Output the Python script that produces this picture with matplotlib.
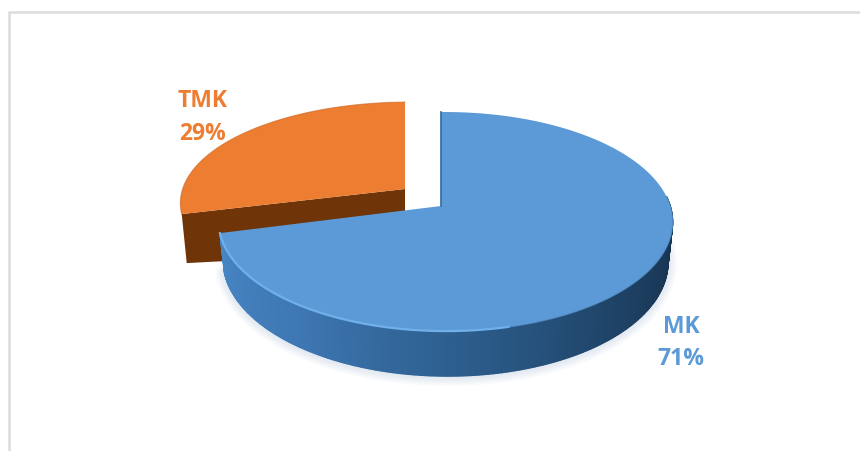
import numpy as np
import matplotlib
matplotlib.use('Agg')
import matplotlib.pyplot as plt
from matplotlib.collections import PolyCollection
from matplotlib.colors import LinearSegmentedColormap

categories = ['MK', 'TMK']
shares = [71, 29]

BLUE = '#5b9ad6'
ORANGE = '#ed7d31'
BROWN = '#6f3408'
W, H = 860, 452
DEPTH = 38.6


def project(t, r=1.0, z=0.0):
    # t is clockwise from 12 o'clock, simple perspective on a tilted disc
    u = r * np.sin(t)
    v = r * np.cos(t)
    w = 1 + 0.142 * v - 0.02 * u
    x = 441 + 224.6 * u / w * (1 - 0.02 * z)
    y = 207 - 107.3 * v / w
    return x, y, w


def wedge_top(t0, t1):
    ts = np.linspace(t0, t1, 200)
    x, y, w = project(ts)
    return np.r_[441.0, x], np.r_[207.0, y]


fig = plt.figure(figsize=(8.6, 4.52), dpi=100)
ax = fig.add_axes([0, 0, 1, 1])
ax.set_xlim(0, W)
ax.set_ylim(H, 0)
ax.axis('off')

# chart frame, only top and left are inside the crop
ax.plot([9, 9, W], [H, 13, 13], color='#dcdcdc', lw=1.8, solid_joinstyle='miter')

angles = np.cumsum([0] + shares) / sum(shares) * 2 * np.pi
blue_t0, blue_t1 = angles[0], angles[1]
or_t0, or_t1 = angles[1], angles[2]

# orange slice pulled out, cut face first
ex, ey = wedge_top(or_t0, or_t1)
ex = 405 + (ex - 441) * 1.01
ey = 190 + (ey - 207) * 0.925
rim_x, rim_y = ex[1], ey[1]
face = [(ex[0], ey[0]), (rim_x, rim_y), (rim_x + 5, rim_y + 49),
        (rim_x + 44, rim_y + 47), (ex[0], ey[0] + 24)]
ax.fill(*zip(*face), color=BROWN, lw=0, zorder=2)
ax.fill(ex, ey, color=ORANGE, lw=0, zorder=3)
ax.plot(ex[1:], ey[1:], color='#c9651f', lw=0.8, alpha=0.6, zorder=3)

# soft shadow under the blue slice
ts = np.linspace(np.radians(85), blue_t1, 200)
sx, sy, sw = project(ts, z=1)
for i in range(6):
    ax.plot(sx, sy + DEPTH / sw + 1, color='#9db8d4', lw=2 + i * 2.2, alpha=0.05,
            zorder=3.5, solid_capstyle='round')

# blue side wall, shaded strip by strip
side_cmap = LinearSegmentedColormap.from_list(
    'side', ['#17324f', '#1f4468', '#2d5f8f', '#3f78b4', '#4785c4'])
ts = np.linspace(np.radians(85), blue_t1, 240)
tx, ty, tw = project(ts)
bx, by, bw = project(ts, z=1)
by = by + DEPTH / bw
quads = []
for i in range(len(ts) - 1):
    quads.append([(tx[i], ty[i]), (tx[i + 1], ty[i + 1]),
                  (bx[i + 1], by[i + 1]), (bx[i], by[i])])
shade = np.clip((ts[:-1] - np.radians(100)) / (blue_t1 - np.radians(100)), 0, 1)
side = PolyCollection(quads, array=shade, cmap=side_cmap, edgecolors='face',
                      linewidths=1.0, zorder=4)
ax.add_collection(side)

# blue top face
bx0, by0 = wedge_top(blue_t0, blue_t1)
ax.fill(bx0, by0, color=BLUE, lw=0, zorder=5)
ax.plot([bx0[0], bx0[1]], [by0[0], by0[1]], color='#2f6aa3', lw=1.2, zorder=5)

# bright rim along the front edge
ts = np.linspace(np.radians(165), blue_t1, 100)
hx, hy, _ = project(ts)
ax.plot(hx, hy, color='#6fb0ea', lw=1.6, zorder=6)
ts = np.linspace(np.radians(85), np.radians(165), 100)
hx, hy, _ = project(ts)
ax.plot(hx, hy, color='#5a97d2', lw=1.0, alpha=0.7, zorder=6)

# labels
label_pos = [(681, 327, 359), (203, 101, 134)]
label_col = [BLUE, ORANGE]
for name, val, (lx, ly1, ly2), col in zip(categories, shares, label_pos, label_col):
    ax.text(lx, ly1, name, color=col, fontsize=16.5, fontweight='bold', family='Open Sans',
            ha='center', va='center')
    ax.text(lx, ly2, f'{val}%', color=col, fontsize=16.5, fontweight='bold', family='Open Sans',
            ha='center', va='center')

fig.savefig('out.png', dpi=100)
